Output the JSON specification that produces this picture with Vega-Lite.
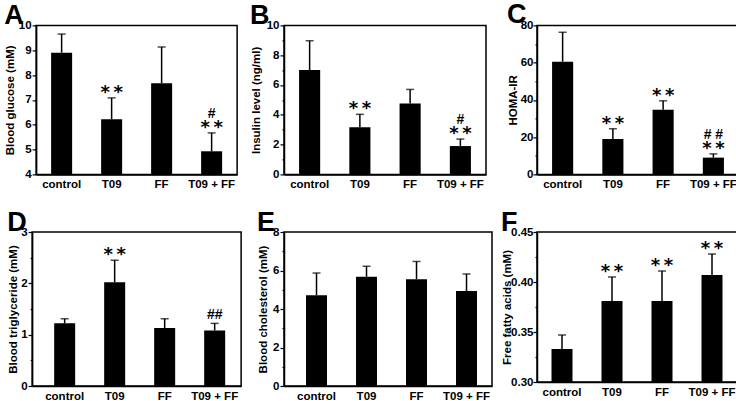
{
  "$schema": "https://vega.github.io/schema/vega-lite/v6.json",
  "padding": {"left": 3, "top": 0, "right": 0, "bottom": 0},
  "background": "white",
  "columns": 3,
  "align": "each",
  "center": true,
  "spacing": {"row": 17, "column": 7},
  "concat": [
    {
      "width": 201, "height": 149,
      "title": {"text": "A"},
      "data": {"values": [
        {"group": "control", "mean": 8.9, "upper": 9.65, "star": "", "hash": ""},
        {"group": "T09", "mean": 6.22, "upper": 7.08, "star": "*\u2009*", "hash": ""},
        {"group": "FF", "mean": 7.67, "upper": 9.13, "star": "", "hash": ""},
        {"group": "T09 + FF", "mean": 4.93, "upper": 5.67, "star": "*\u2009*", "hash": "#"}
      ]},
      "encoding": {
        "x": {"field": "group", "type": "nominal", "sort": null, "scale": {"paddingInner": 0.58, "paddingOuter": 0.3}, "axis": {"title": null}},
        "y": {"field": "mean", "type": "quantitative", "scale": {"domain": [4, 10], "zero": false, "nice": false},
              "axis": {"title": "Blood glucose (mM)", "values": [4, 5, 6, 7, 8, 9, 10], "minExtent": 19, "maxExtent": 19}}
      },
      "layer": [
        {"mark": {"type": "bar", "color": "black"}, "encoding": {"y2": {"datum": 4}}},
        {"mark": {"type": "rule", "color": "black", "strokeWidth": 1.5}, "encoding": {"y2": {"field": "upper"}}},
        {"mark": {"type": "tick", "color": "black", "size": 8, "thickness": 1.5}, "encoding": {"y": {"field": "upper", "type": "quantitative"}}},
        {"mark": {"type": "text", "font": "DejaVu Sans", "fontWeight": "bold", "fontSize": 18, "baseline": "alphabetic", "dy": 0, "color": "black"},
         "encoding": {"y": {"field": "upper", "type": "quantitative"}, "text": {"field": "star"}}},
        {"transform": [{"filter": "datum.star"}],
         "mark": {"type": "text", "font": "Liberation Sans", "fontWeight": "bold", "fontSize": 14, "baseline": "alphabetic", "dy": -15, "color": "black"},
         "encoding": {"y": {"field": "upper", "type": "quantitative"}, "text": {"field": "hash"}}}
      ]
    },
    {
      "width": 202, "height": 149,
      "title": {"text": "B"},
      "data": {"values": [
        {"group": "control", "mean": 7.0, "upper": 8.97, "star": "", "hash": ""},
        {"group": "T09", "mean": 3.17, "upper": 4.03, "star": "*\u2009*", "hash": ""},
        {"group": "FF", "mean": 4.75, "upper": 5.7, "star": "", "hash": ""},
        {"group": "T09 + FF", "mean": 1.9, "upper": 2.37, "star": "*\u2009*", "hash": "#"}
      ]},
      "encoding": {
        "x": {"field": "group", "type": "nominal", "sort": null, "scale": {"paddingInner": 0.58, "paddingOuter": 0.3}, "axis": {"title": null}},
        "y": {"field": "mean", "type": "quantitative", "scale": {"domain": [0, 10], "nice": false},
              "axis": {"title": "Insulin level (ng/ml)", "values": [0, 1, 2, 3, 4, 5, 6, 7, 8, 9, 10], "minExtent": 21, "maxExtent": 21,
                       "labelExpr": "datum.value % 2 === 0 ? datum.label : ''",
                       "tickSize": {"condition": {"test": "datum.value % 2 === 0", "value": 4}, "value": 2}}}
      },
      "layer": [
        {"mark": {"type": "bar", "color": "black"}},
        {"mark": {"type": "rule", "color": "black", "strokeWidth": 1.5}, "encoding": {"y2": {"field": "upper"}}},
        {"mark": {"type": "tick", "color": "black", "size": 8, "thickness": 1.5}, "encoding": {"y": {"field": "upper", "type": "quantitative"}}},
        {"mark": {"type": "text", "font": "DejaVu Sans", "fontWeight": "bold", "fontSize": 18, "baseline": "alphabetic", "dy": 0, "color": "black"},
         "encoding": {"y": {"field": "upper", "type": "quantitative"}, "text": {"field": "star"}}},
        {"transform": [{"filter": "datum.star"}],
         "mark": {"type": "text", "font": "Liberation Sans", "fontWeight": "bold", "fontSize": 14, "baseline": "alphabetic", "dy": -15, "color": "black"},
         "encoding": {"y": {"field": "upper", "type": "quantitative"}, "text": {"field": "hash"}}}
      ]
    },
    {
      "width": 202, "height": 149,
      "title": {"text": "C"},
      "data": {"values": [
        {"group": "control", "mean": 60.5, "upper": 76.3, "star": "", "hash": ""},
        {"group": "T09", "mean": 19.0, "upper": 24.5, "star": "*\u2009*", "hash": ""},
        {"group": "FF", "mean": 34.7, "upper": 39.5, "star": "*\u2009*", "hash": ""},
        {"group": "T09 + FF", "mean": 9.0, "upper": 11.0, "star": "*\u2009*", "hash": "# #"}
      ]},
      "encoding": {
        "x": {"field": "group", "type": "nominal", "sort": null, "scale": {"paddingInner": 0.58, "paddingOuter": 0.3}, "axis": {"title": null}},
        "y": {"field": "mean", "type": "quantitative", "scale": {"domain": [0, 80], "nice": false},
              "axis": {"title": "HOMA-IR", "values": [0, 10, 20, 30, 40, 50, 60, 70, 80], "minExtent": 17, "maxExtent": 17, "labelPadding": 0,
                       "labelExpr": "datum.value % 20 === 0 ? datum.label : ''",
                       "tickSize": {"condition": {"test": "datum.value % 20 === 0", "value": 4}, "value": 2}}}
      },
      "layer": [
        {"mark": {"type": "bar", "color": "black"}},
        {"mark": {"type": "rule", "color": "black", "strokeWidth": 1.5}, "encoding": {"y2": {"field": "upper"}}},
        {"mark": {"type": "tick", "color": "black", "size": 8, "thickness": 1.5}, "encoding": {"y": {"field": "upper", "type": "quantitative"}}},
        {"mark": {"type": "text", "font": "DejaVu Sans", "fontWeight": "bold", "fontSize": 18, "baseline": "alphabetic", "dy": 0, "color": "black"},
         "encoding": {"y": {"field": "upper", "type": "quantitative"}, "text": {"field": "star"}}},
        {"transform": [{"filter": "datum.star"}],
         "mark": {"type": "text", "font": "Liberation Sans", "fontWeight": "bold", "fontSize": 14, "baseline": "alphabetic", "dy": -15, "color": "black"},
         "encoding": {"y": {"field": "upper", "type": "quantitative"}, "text": {"field": "hash"}}}
      ]
    },
    {
      "width": 209, "height": 154,
      "title": {"text": "D"},
      "data": {"values": [
        {"group": "control", "mean": 1.22, "upper": 1.31, "star": "", "hash": ""},
        {"group": "T09", "mean": 2.02, "upper": 2.45, "star": "*\u2009*", "hash": ""},
        {"group": "FF", "mean": 1.13, "upper": 1.31, "star": "", "hash": ""},
        {"group": "T09 + FF", "mean": 1.08, "upper": 1.22, "star": "", "hash": "##"}
      ]},
      "encoding": {
        "x": {"field": "group", "type": "nominal", "sort": null, "scale": {"paddingInner": 0.58, "paddingOuter": 0.38, "align": 0.58}, "axis": {"title": null}},
        "y": {"field": "mean", "type": "quantitative", "scale": {"domain": [0, 3], "nice": false},
              "axis": {"title": "Blood triglyceride (mM)", "format": "~g", "values": [0, 0.5, 1, 1.5, 2, 2.5, 3], "minExtent": 12, "maxExtent": 12,
                       "labelExpr": "datum.value % 1 === 0 ? datum.label : ''",
                       "tickSize": {"condition": {"test": "datum.value % 1 === 0", "value": 4}, "value": 2}}}
      },
      "layer": [
        {"mark": {"type": "bar", "color": "black"}},
        {"mark": {"type": "rule", "color": "black", "strokeWidth": 1.5}, "encoding": {"y2": {"field": "upper"}}},
        {"mark": {"type": "tick", "color": "black", "size": 8, "thickness": 1.5}, "encoding": {"y": {"field": "upper", "type": "quantitative"}}},
        {"mark": {"type": "text", "font": "DejaVu Sans", "fontWeight": "bold", "fontSize": 18, "baseline": "alphabetic", "dy": 0, "color": "black"},
         "encoding": {"y": {"field": "upper", "type": "quantitative"}, "text": {"field": "star"}}},
        {"transform": [{"filter": "!datum.star"}],
         "mark": {"type": "text", "font": "Liberation Sans", "fontWeight": "bold", "fontSize": 14, "baseline": "alphabetic", "dy": -4, "color": "black"},
         "encoding": {"y": {"field": "upper", "type": "quantitative"}, "text": {"field": "hash"}}}
      ]
    },
    {
      "width": 208, "height": 154,
      "title": {"text": "E"},
      "data": {"values": [
        {"group": "control", "mean": 4.72, "upper": 5.87},
        {"group": "T09", "mean": 5.67, "upper": 6.22},
        {"group": "FF", "mean": 5.55, "upper": 6.47},
        {"group": "T09 + FF", "mean": 4.93, "upper": 5.82}
      ]},
      "encoding": {
        "x": {"field": "group", "type": "nominal", "sort": null, "scale": {"paddingInner": 0.58, "paddingOuter": 0.37, "align": 0.595}, "axis": {"title": null}},
        "y": {"field": "mean", "type": "quantitative", "scale": {"domain": [0, 8], "nice": false},
              "axis": {"title": "Blood cholesterol (mM)", "values": [0, 1, 2, 3, 4, 5, 6, 7, 8], "minExtent": 14, "maxExtent": 14,
                       "labelExpr": "datum.value % 2 === 0 ? datum.label : ''",
                       "tickSize": {"condition": {"test": "datum.value % 2 === 0", "value": 4}, "value": 2}}}
      },
      "layer": [
        {"mark": {"type": "bar", "color": "black"}},
        {"mark": {"type": "rule", "color": "black", "strokeWidth": 1.5}, "encoding": {"y2": {"field": "upper"}}},
        {"mark": {"type": "tick", "color": "black", "size": 8, "thickness": 1.5}, "encoding": {"y": {"field": "upper", "type": "quantitative"}}}
      ]
    },
    {
      "width": 200, "height": 150,
      "title": {"text": "F"},
      "data": {"values": [
        {"group": "control", "mean": 0.333, "upper": 0.347, "star": ""},
        {"group": "T09", "mean": 0.381, "upper": 0.405, "star": "*\u2009*"},
        {"group": "FF", "mean": 0.381, "upper": 0.411, "star": "*\u2009*"},
        {"group": "T09 + FF", "mean": 0.407, "upper": 0.428, "star": "*\u2009*"}
      ]},
      "encoding": {
        "x": {"field": "group", "type": "nominal", "sort": null, "scale": {"paddingInner": 0.58, "paddingOuter": 0.29}, "axis": {"title": null}},
        "y": {"field": "mean", "type": "quantitative", "scale": {"domain": [0.3, 0.45], "zero": false, "nice": false},
              "axis": {"title": "Free fatty acids (mM)", "format": ".2f", "values": [0.3, 0.325, 0.35, 0.375, 0.4, 0.425, 0.45],
                       "minExtent": 24, "maxExtent": 24, "labelPadding": 0, "titlePadding": 1,
                       "labelExpr": "abs(datum.value * 20 - round(datum.value * 20)) < 0.000001 ? datum.label : ''",
                       "tickSize": {"condition": {"test": "abs(datum.value * 20 - round(datum.value * 20)) < 0.000001", "value": 4}, "value": 2}}}
      },
      "layer": [
        {"mark": {"type": "bar", "color": "black"}, "encoding": {"y2": {"datum": 0.3}}},
        {"mark": {"type": "rule", "color": "black", "strokeWidth": 1.5}, "encoding": {"y2": {"field": "upper"}}},
        {"mark": {"type": "tick", "color": "black", "size": 8, "thickness": 1.5}, "encoding": {"y": {"field": "upper", "type": "quantitative"}}},
        {"mark": {"type": "text", "font": "DejaVu Sans", "fontWeight": "bold", "fontSize": 18, "baseline": "alphabetic", "dy": 0, "color": "black"},
         "encoding": {"y": {"field": "upper", "type": "quantitative"}, "text": {"field": "star"}}}
      ]
    }
  ],
  "config": {
    "view": {"stroke": "black", "strokeWidth": 1.5},
    "axis": {"grid": false, "domainColor": "black", "domainWidth": 1.5, "tickColor": "black", "tickWidth": 1.2,
             "labelColor": "black", "labelFont": "Liberation Sans", "labelFontWeight": "bold", "labelFontSize": 11.5,
             "titleColor": "black", "titleFont": "Liberation Sans", "titleFontWeight": "bold", "titleFontSize": 11.5,
             "labelOverlap": false},
    "axisX": {"ticks": false, "labelPadding": 4, "labelAngle": 0},
    "axisY": {"tickSize": 4, "labelPadding": 1, "titlePadding": 2},
    "title": {"font": "Liberation Sans", "fontSize": 27, "fontWeight": "bold", "color": "black", "anchor": "start", "frame": "bounds", "offset": -11}
  }
}
